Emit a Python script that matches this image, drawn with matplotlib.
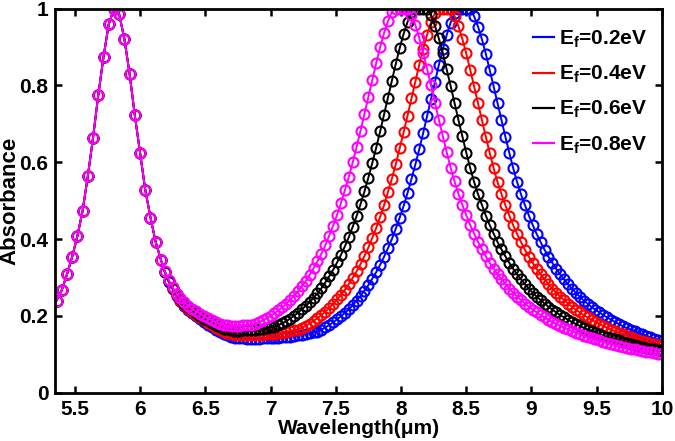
import matplotlib
matplotlib.use("Agg")
import matplotlib.pyplot as plt

plt.rcParams['font.family'] = ['Liberation Sans', 'DejaVu Sans']
plt.rcParams['font.weight'] = 'bold'
plt.rcParams['mathtext.fontset'] = 'custom'
plt.rcParams['mathtext.rm'] = 'Liberation Sans:bold'
plt.rcParams['mathtext.it'] = 'Liberation Sans:bold'
plt.rcParams['mathtext.bf'] = 'Liberation Sans:bold'
plt.rcParams['mathtext.default'] = 'rm'

# wavelength samples (um): short-wave peak, then the graphene-tuned part
wl_left = [5.36, 5.40, 5.44, 5.48, 5.52, 5.56, 5.60, 5.64, 5.68, 5.72, 5.76,
           5.80, 5.84, 5.88, 5.92, 5.96, 6.00, 6.04, 6.08, 6.12, 6.16]
wl_main = [6.19, 6.22, 6.25, 6.28, 6.31, 6.34, 6.37, 6.40, 6.43, 6.46,
           6.49, 6.52, 6.55, 6.58, 6.61, 6.64, 6.67, 6.70, 6.73, 6.76,
           6.79, 6.82, 6.85, 6.88, 6.91, 6.94, 6.97, 7.00, 7.03, 7.06,
           7.09, 7.12, 7.15, 7.18, 7.21, 7.24, 7.27, 7.30, 7.33, 7.36,
           7.39, 7.42, 7.45, 7.48, 7.51, 7.54, 7.57, 7.60, 7.63, 7.66,
           7.69, 7.72, 7.75, 7.78, 7.81, 7.84, 7.87, 7.90, 7.93, 7.96,
           7.99, 8.02, 8.05, 8.08, 8.11, 8.14, 8.17, 8.20, 8.23, 8.26,
           8.29, 8.32, 8.35, 8.38, 8.41, 8.44, 8.47, 8.50, 8.53, 8.56,
           8.59, 8.62, 8.65, 8.68, 8.71, 8.74, 8.77, 8.80, 8.83, 8.86,
           8.89, 8.92, 8.95, 8.98, 9.01, 9.04, 9.07, 9.10, 9.13, 9.16,
           9.19, 9.22, 9.25, 9.28, 9.31, 9.34, 9.37, 9.40, 9.43, 9.46,
           9.49, 9.52, 9.55, 9.58, 9.61, 9.64, 9.67, 9.70, 9.73, 9.76,
           9.79, 9.82, 9.85, 9.88, 9.91, 9.94, 9.97, 10.00]

# shared short-wave peak (same for every Ef)
peak_left = [0.240, 0.267, 0.308, 0.354, 0.408, 0.474, 0.564, 0.664, 0.775, 0.874,
             0.959, 0.999, 0.985, 0.921, 0.830, 0.722, 0.624, 0.528, 0.456, 0.392,
             0.346]

abs_02 = [.313, .289, .269, .252, .238, .226, .215, .207, .199, .191,
          .184, .177, .170, .164, .158, .152, .149, .145, .143, .142,
          .142, .141, .141, .141, .141, .142, .142, .142, .143, .143,
          .144, .145, .146, .147, .149, .151, .153, .155, .157, .159,
          .164, .170, .176, .183, .191, .199, .208, .217, .228, .240,
          .252, .266, .280, .297, .314, .333, .354, .376, .400, .427,
          .456, .486, .520, .556, .594, .634, .676, .720, .765, .809,
          .853, .894, .931, .963, .988, 1.0, 1.0, 1.0, .999, .980,
          .953, .920, .882, .840, .797, .753, .709, .666, .624, .584,
          .548, .516, .488, .461, .436, .413, .392, .372, .354, .338,
          .322, .308, .295, .282, .271, .260, .250, .240, .232, .223,
          .216, .209, .202, .196, .190, .184, .179, .173, .168, .164,
          .160, .155, .152, .148, .144, .141, .138, .135]

abs_04 = [.314, .290, .270, .254, .240, .228, .218, .210, .202, .195,
          .188, .181, .175, .169, .163, .158, .155, .152, .150, .150,
          .150, .149, .149, .150, .150, .151, .152, .153, .154, .155,
          .156, .158, .160, .162, .164, .169, .174, .180, .187, .194,
          .202, .211, .221, .231, .243, .255, .268, .283, .299, .316,
          .335, .356, .378, .403, .429, .458, .488, .522, .557, .595,
          .636, .678, .721, .766, .810, .854, .895, .932, .964, .989,
          1.0, 1.0, 1.0, 1.0, .981, .954, .921, .883, .841, .797,
          .753, .709, .666, .624, .584, .548, .517, .488, .461, .436,
          .413, .392, .372, .354, .338, .322, .308, .295, .282, .271,
          .260, .250, .241, .232, .224, .216, .209, .202, .196, .190,
          .184, .179, .174, .169, .164, .160, .156, .152, .148, .144,
          .141, .138, .135, .132, .129, .127, .124, .122]

abs_06 = [.315, .291, .272, .256, .243, .232, .222, .214, .207, .200,
          .193, .188, .182, .176, .172, .167, .165, .162, .161, .161,
          .162, .162, .162, .164, .165, .167, .168, .170, .172, .176,
          .181, .186, .193, .200, .208, .217, .226, .236, .247, .259,
          .272, .287, .303, .320, .339, .359, .381, .405, .432, .460,
          .491, .524, .560, .598, .638, .680, .724, .768, .812, .856,
          .897, .934, .965, .991, 1.0, 1.0, 1.0, 1.0, .983, .955,
          .922, .884, .842, .799, .754, .710, .667, .625, .585, .549,
          .517, .489, .461, .436, .414, .392, .373, .355, .338, .322,
          .308, .295, .282, .271, .260, .250, .241, .232, .224, .216,
          .209, .202, .196, .190, .184, .179, .174, .169, .164, .160,
          .156, .152, .148, .145, .142, .139, .136, .132, .129, .127,
          .124, .122, .120, .117, .115, .113, .111, .109]

abs_08 = [.316, .293, .274, .258, .246, .235, .226, .218, .212, .206,
          .199, .194, .189, .184, .180, .177, .175, .173, .173, .174,
          .175, .176, .177, .179, .183, .188, .194, .200, .207, .214,
          .222, .231, .241, .252, .264, .277, .291, .307, .324, .342,
          .362, .384, .409, .435, .463, .494, .527, .562, .600, .640,
          .682, .726, .770, .815, .858, .899, .936, .967, .992, 1.0,
          1.0, 1.0, 1.0, .984, .957, .923, .885, .843, .800, .755,
          .711, .668, .626, .586, .550, .518, .489, .462, .437, .414,
          .393, .373, .355, .338, .323, .308, .295, .283, .271, .260,
          .250, .241, .232, .224, .216, .209, .202, .196, .190, .184,
          .179, .174, .169, .165, .161, .156, .153, .148, .145, .142,
          .139, .136, .133, .130, .127, .125, .122, .120, .117, .115,
          .113, .111, .109, .107, .106, .104, .102, .101]

series = [(abs_02, 'blue', r'E$_\mathrm{f}$=0.2eV'),
          (abs_04, 'red', r'E$_\mathrm{f}$=0.4eV'),
          (abs_06, 'black', r'E$_\mathrm{f}$=0.6eV'),
          (abs_08, 'magenta', r'E$_\mathrm{f}$=0.8eV')]

x_ticks = [5.5, 6, 6.5, 7, 7.5, 8, 8.5, 9, 9.5, 10]
x_ticklabels = ['5.5', '6', '6.5', '7', '7.5', '8', '8.5', '9', '9.5', '10']
y_ticks = [0, 0.2, 0.4, 0.6, 0.8, 1]
y_ticklabels = ['0', '0.2', '0.4', '0.6', '0.8', '1']

fig = plt.figure(figsize=(6.75, 4.41), dpi=100)
ax = fig.add_axes([0.0822, 0.1095, 0.8985, 0.8712])

wl = wl_left + wl_main
handles = []
for vals, col, lab in series:
    y = peak_left + vals
    ax.plot(wl, y, '-o', color=col, lw=1.4, ms=7.2, mfc='none', mew=1.5)
    h, = ax.plot([], [], '-', color=col, lw=1.6, label=lab)
    handles.append(h)

ax.set_xlim(5.352, 10)
ax.set_ylim(0, 1)
ax.set_xticks(x_ticks)
ax.set_xticklabels(x_ticklabels)
ax.set_yticks(y_ticks)
ax.set_yticklabels(y_ticklabels)
ax.tick_params(direction='in', top=True, right=True, length=5, width=1.8,
               labelsize=15, pad=5)
for sp in ax.spines.values():
    sp.set_linewidth(2)

ax.set_xlabel('Wavelength(μm)', fontsize=15, fontweight='bold', labelpad=0)
ax.set_ylabel('Absorbance', fontsize=16, fontweight='bold')
ax.yaxis.set_label_coords(-0.057, 0.5)

ax.legend(handles=handles, loc='upper left', bbox_to_anchor=(0.7896, 0.935),
          bbox_transform=fig.transFigure, frameon=False, fontsize=15,
          handlelength=1.0, handletextpad=0.25, borderpad=0, borderaxespad=0,
          labelspacing=0.67)

fig.savefig('out.png', dpi=100)
